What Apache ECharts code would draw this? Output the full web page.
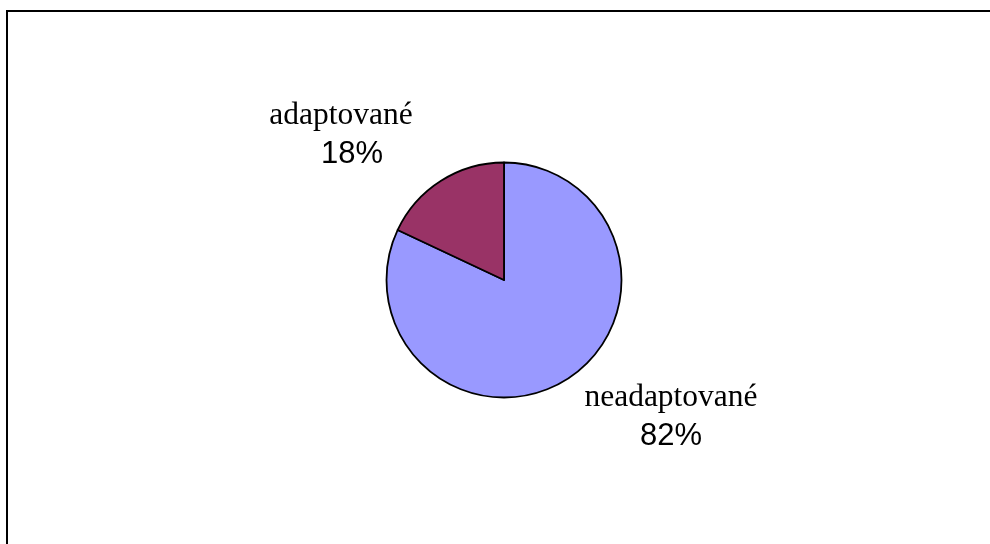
<!DOCTYPE html>
<html>
<head>
<meta charset="utf-8">
<script src="https://cdn.jsdelivr.net/npm/echarts@6/dist/echarts.min.js"></script>
<style>
html,body{margin:0;padding:0;background:#fff;}
#c{width:990px;height:544px;}
</style>
</head>
<body>
<div id="c"></div>
<script>
const categories = ["neadaptované", "adaptované"];
const values = [82, 18];
const colors = ["#9999FF", "#993366"];
const labelPos = [[671, 417], [346.5, 135]];
const labelShift = [0, 11];

const chart = echarts.init(document.getElementById('c'));
chart.setOption({
  animation: false,
  backgroundColor: '#ffffff',
  graphic: [{
    type: 'rect',
    shape: {x: 7, y: 11, width: 1100, height: 700},
    style: {fill: 'none', stroke: '#000', lineWidth: 2},
    silent: true
  }],
  series: [{
    type: 'pie',
    center: [504, 280],
    radius: [0, 117.5],
    startAngle: 90,
    clockwise: true,
    data: categories.map((c, i) => ({
      name: c, value: values[i], itemStyle: {color: colors[i]},
      label: {
        rich: {
          n: {fontFamily: 'Liberation Serif', fontSize: 31.5, color: '#000', lineHeight: 39, align: 'center', padding: [0, labelShift[i], 0, 0]},
          p: {fontFamily: 'Liberation Sans', fontSize: 31, color: '#000', lineHeight: 39, align: 'center', padding: [0, 0, 0, labelShift[i]]}
        }
      }
    })),
    itemStyle: {borderColor: '#000', borderWidth: 1.8},
    label: {
      show: true,
      position: 'outside',
      formatter: p => '{n|' + p.name + '}\n{p|' + Math.round(p.percent) + '%}'
    },
    labelLine: {show: false},
    labelLayout: function (params) {
      const pos = labelPos[params.dataIndex];
      return {x: pos[0], y: pos[1], align: 'center', verticalAlign: 'middle'};
    },
    emphasis: {disabled: true}
  }]
});
</script>
</body>
</html>
